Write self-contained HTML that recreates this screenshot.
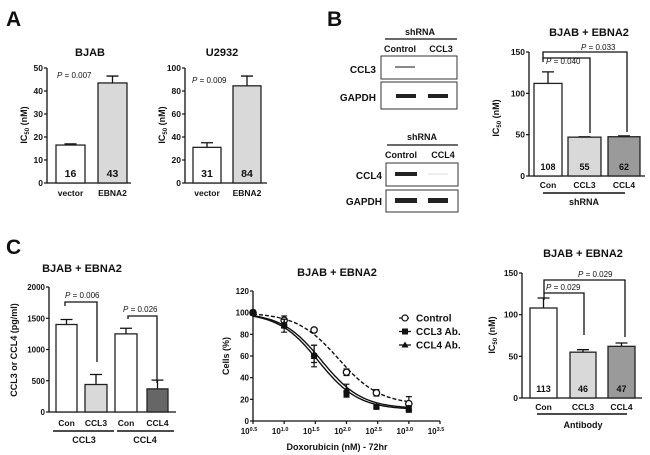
<!DOCTYPE html>
<html><head><meta charset="utf-8"><style>
html,body{margin:0;padding:0;background:#fff;}
svg{display:block;font-family:"Liberation Sans",Arial,sans-serif;}
text{fill:#111;}
.b{font-weight:bold;}
</style></head><body>
<svg id="fig" width="650" height="455" viewBox="0 0 650 455" xmlns="http://www.w3.org/2000/svg">
<text x="6" y="26" font-size="21" class="b">A</text>
<text x="327" y="26" font-size="21" class="b">B</text>
<text x="6" y="254" font-size="21" class="b">C</text>

<g>
<text x="420" y="35" font-size="9" class="b" text-anchor="middle">shRNA</text>
<line x1="385" y1="39" x2="457" y2="39" stroke="#111" stroke-width="1.2"/>
<text x="400" y="52" font-size="9" class="b" text-anchor="middle">Control</text>
<text x="441" y="52" font-size="9" class="b" text-anchor="middle">CCL3</text>
<rect x="381" y="56" width="76" height="23" fill="#fff" stroke="#333" stroke-width="1"/>
<rect x="381" y="82" width="76" height="27" fill="#fff" stroke="#333" stroke-width="1"/>
<rect x="395" y="66" width="20" height="2" fill="#888"/>
<rect x="396" y="94" width="20" height="4" fill="#222"/>
<rect x="428" y="94" width="20" height="4" fill="#222"/>
<text x="376" y="73" font-size="10" class="b" text-anchor="end">CCL3</text>
<text x="376" y="101" font-size="10" class="b" text-anchor="end">GAPDH</text>
</g>
<g>
<text x="422" y="140" font-size="9" class="b" text-anchor="middle">shRNA</text>
<line x1="387" y1="145" x2="458" y2="145" stroke="#111" stroke-width="1.2"/>
<text x="401" y="158" font-size="9" class="b" text-anchor="middle">Control</text>
<text x="443" y="158" font-size="9" class="b" text-anchor="middle">CCL4</text>
<rect x="386" y="163" width="72" height="23" fill="#fff" stroke="#333" stroke-width="1"/>
<rect x="386" y="190" width="72" height="22" fill="#fff" stroke="#333" stroke-width="1"/>
<rect x="395" y="172" width="22" height="4" fill="#222"/>
<rect x="428" y="173" width="20" height="2" fill="#eee"/>
<rect x="395" y="198" width="22" height="5" fill="#222"/>
<rect x="428" y="198" width="20" height="5" fill="#222"/>
<text x="382" y="179" font-size="10" class="b" text-anchor="end">CCL4</text>
<text x="382" y="205" font-size="10" class="b" text-anchor="end">GAPDH</text>
</g>
</svg>
<script>
// ---- data ----
const aBjabCats=["vector","EBNA2"], aBjabVals=[16.5,43.5], aBjabErr=[17,46.5], aBjabLabels=["16","43"], aBjabTicks=[0,10,20,30,40,50];
const aU2932Cats=["vector","EBNA2"], aU2932Vals=[31,84.5], aU2932Err=[35,93], aU2932Labels=["31","84"], aU2932Ticks=[0,20,40,60,80,100];
const bCats=["Con","CCL3","CCL4"], bVals=[112,47,47.5], bErr=[126,47.5,48.5], bLabels=["108","55","62"], bTicks=[0,50,100,150];
const cLCats=["Con","CCL3","Con","CCL4"], cLVals=[1400,440,1250,370], cLErr=[1480,600,1340,510], cLTicks=[0,500,1000,1500,2000];
const cRCats=["Con","CCL3","CCL4"], cRVals=[108,55,62], cRErr=[120,58,66], cRLabels=["113","46","47"], cRTicks=[0,50,100,150];
const doseLog=[0.5,1.0,1.48,2.0,2.48,3.0];
const ctrlVals=[100,93,84,45,26,16], ctrlErr=[0,4,1.5,3,3,6.5];
const ccl3Vals=[100,88,60,25,13,11], ccl3Err=[0,6,10,3,1,3];
const ccl4Vals=[100,90,62,29,14,12], ccl4Err=[0,4,8,5,1,2];
const fitTop=[100,100,100], fitBottom=[15,10.5,11.5], fitLogIC=[1.87,1.55,1.6], fitHill=[1.3,1.35,1.35];
const doseTicks=["0.5","1.0","1.5","2.0","2.5","3.0","3.5"], cellTicks=[0,20,40,60,80,100,120];

const svg=document.getElementById('fig'), NS='http://www.w3.org/2000/svg';
function mk(tag,a,parent){const e=document.createElementNS(NS,tag);for(const k in a)e.setAttribute(k,a[k]);(parent||svg).appendChild(e);return e;}
function txt(s,x,y,size,anchor,parent,extra){const t=mk('text',Object.assign({x:x,y:y,'font-size':size,'text-anchor':anchor||'middle','font-weight':'bold'},extra||{}),parent);t.textContent=s;return t;}

function barChart(o){
  const g=mk('g',{});
  
  
  const ys=v=>o.y0-(v-0)*o.ppu;
  const top=o.ticks[o.ticks.length-1];
  const ax=mk('line',{x1:o.ax,y1:ys(top),x2:o.ax,y2:o.y0,stroke:'#111','stroke-width':1.3},g);
  
  
  const xa=mk('line',{x1:o.ax,y1:o.y0,x2:o.xend,y2:o.y0,stroke:'#111','stroke-width':1.3},g);
  
  
  o.ticks.forEach(t=>{mk('line',{x1:o.ax-3,y1:ys(t),x2:o.ax,y2:ys(t),stroke:'#111','stroke-width':1.2},g);
    const tl=txt(String(t),o.ax-4,ys(t)+3,o.tf||8.5,'end',g);
    
    });
  o.vals.forEach((v,i)=>{const [x1,x2]=o.bars[i];const cx=(x1+x2)/2;
    const eb=mk('path',{d:`M${cx},${ys(v)}V${ys(o.err[i])}M${cx-6},${ys(o.err[i])}H${cx+6}`,stroke:'#111','stroke-width':1.3,fill:'none'},g);
    
    
    const r=mk('rect',{x:x1,y:ys(v),width:x2-x1,height:o.y0-ys(v),fill:o.fills[i],stroke:'#222','stroke-width':1.3},g);
    
    
    if(o.labels){const l=txt(o.labels[i],cx,o.y0-6,o.lf||10.5,'middle',g);
      
      }
    const xl=txt(o.cats[i],cx,o.xly,o.xf||8.5,'middle',g);
    
    });
  const ti=txt(o.title,o.tx,o.ty,11,'middle',g);
  
  
  const yt=mk('text',{x:0,y:0,'font-size':o.ytf||9,'font-weight':'bold','text-anchor':'middle',transform:`translate(${o.ytx},${o.yty}) rotate(-90)`},g);
  
  
  if(o.ytitle==='IC50'){yt.appendChild(document.createTextNode('IC'));const s=document.createElementNS(NS,'tspan');s.setAttribute('font-size','6');s.setAttribute('dy','2');s.textContent='50';yt.appendChild(s);const s2=document.createElementNS(NS,'tspan');s2.setAttribute('dy','-2');s2.textContent=' (nM)';yt.appendChild(s2);}
  else yt.textContent=o.ytitle;
  return {g,ys};
}
function pText(x,y,val,g,size){const t=mk('text',{x:x,y:y,'font-size':size||8.5,'text-anchor':'start'},g);
  const i=document.createElementNS(NS,'tspan');i.setAttribute('font-style','italic');i.textContent='P';t.appendChild(i);
  t.appendChild(document.createTextNode(val));
  
  return t;}
function bracket(x1,x2,y,yl,yr,g){const p=mk('path',{d:`M${x1},${yl}V${y}H${x2}V${yr}`,stroke:'#111','stroke-width':1.3,fill:'none'},g);
  
  }
function uline(x1,x2,y,label,lx,ly,g){mk('line',{x1:x1,y1:y,x2:x2,y2:y,stroke:'#111','stroke-width':1.5},g);
  const t=txt(label,lx,ly,9,'middle',g);
  
  }

// A BJAB
let c=barChart({name:'chart-a-bjab',ax:47,xend:131,y0:183,ppu:115/50,ticks:aBjabTicks,vals:aBjabVals,err:aBjabErr,labels:aBjabLabels,cats:aBjabCats,
  bars:[[56,85],[98,127]],fills:['#fff','#d9d9d9'],xly:196,title:'BJAB',tx:90,ty:56,ytitle:'IC50',ytx:27,yty:125});
pText(57,78,' = 0.007',c.g,8);
// A U2932
c=barChart({name:'chart-a-u2932',ax:185,xend:267,y0:183,ppu:115/100,ticks:aU2932Ticks,vals:aU2932Vals,err:aU2932Err,labels:aU2932Labels,cats:aU2932Cats,
  bars:[[193,221],[233,261]],fills:['#fff','#d9d9d9'],xly:196,title:'U2932',tx:222,ty:56,ytitle:'IC50',ytx:165,yty:125});
pText(192,83,' = 0.009',c.g,8);
// B
c=barChart({name:'chart-b-shrna',ax:529,xend:645,y0:176,ppu:124/150,ticks:bTicks,vals:bVals,err:bErr,labels:bLabels,cats:bCats,lf:9,
  bars:[[534,562],[568,601],[608,640]],fills:['#fff','#d9d9d9','#9a9a9a'],xly:188,xf:8.5,title:'BJAB + EBNA2',tx:589,ty:36,ytitle:'IC50',ytx:499,yty:118});
bracket(543,590,58,62,133,c.g);bracket(543,627,52,58,132,c.g);
pText(546,64,' = 0.040',c.g,8);pText(581,50,' = 0.033',c.g,8);
uline(543,625,193,'shRNA',584,205,c.g);
// C left
c=barChart({name:'chart-c-elisa',ax:49,xend:176,y0:412,ppu:125/2000,ticks:cLTicks,vals:cLVals,err:cLErr,cats:cLCats,
  bars:[[56,77],[85,107],[115,137],[147,168]],fills:['#fff','#d9d9d9','#fff','#666'],xly:426,title:'BJAB + EBNA2',tx:82,ty:272,ytitle:'CCL3 or CCL4 (pg/ml)',ytx:17,yty:350,tf:8});
bracket(65,97,302,306,362,c.g);bracket(128,157,316,319,383,c.g);
pText(65,298,' = 0.006',c.g,8);pText(123,312,' = 0.026',c.g,8);
uline(53,114,431,'CCL3',84,443,c.g);uline(117,174,431,'CCL4',145,443,c.g);
// C right
c=barChart({name:'chart-c-antibody',ax:522,xend:642,y0:398,ppu:125/150,ticks:cRTicks,vals:cRVals,err:cRErr,labels:cRLabels,cats:cRCats,lf:9,
  bars:[[530,557],[570,596],[608,635]],fills:['#fff','#d9d9d9','#9a9a9a'],xly:410,title:'BJAB + EBNA2',tx:583,ty:257,ytitle:'IC50',ytx:495,yty:335});
bracket(544,584,293,300,335,c.g);bracket(544,625,280,293,337,c.g);
pText(546,290,' = 0.029',c.g,8);pText(578,277,' = 0.029',c.g,8);
uline(537,627,414,'Antibody',583,428,c.g);

// C middle dose-response
(function(){
  const g=mk('g',{});
  
  
  const xs=l=>253+(l-0.5)*(187/3), ys=v=>421-v*(130/120);
  const ya=mk('line',{x1:253,y1:ys(120),x2:253,y2:421,stroke:'#111','stroke-width':1.3},g);
  
  
  const xa=mk('line',{x1:253,y1:421,x2:xs(3.5),y2:421,stroke:'#111','stroke-width':1.3},g);
  
  
  cellTicks.forEach(t=>{mk('line',{x1:250,y1:ys(t),x2:253,y2:ys(t),stroke:'#111','stroke-width':1.2},g);
    const l=txt(String(t),249,ys(t)+3,8,'end',g);
    
    });
  doseTicks.forEach(t=>{const x=xs(parseFloat(t));mk('line',{x1:x,y1:421,x2:x,y2:424,stroke:'#111','stroke-width':1.2},g);
    const l=mk('text',{x:x-4,y:434,'font-size':8,'font-weight':'bold','text-anchor':'middle'},g);
    
    
    l.appendChild(document.createTextNode('10'));const s=document.createElementNS(NS,'tspan');s.setAttribute('font-size','5.5');s.setAttribute('dy','-3');s.textContent=t;l.appendChild(s);});
  let t=txt('BJAB + EBNA2',337,276,11,'middle',g);
  
  
  t=txt('Doxorubicin (nM) - 72hr',337,450,9,'middle',g);
  
  
  t=mk('text',{x:0,y:0,'font-size':9,'font-weight':'bold','text-anchor':'middle',transform:'translate(229,356) rotate(-90)'},g);t.textContent='Cells (%)';
  
  
  const series=[[ctrlVals,ctrlErr,'4,2','circle'],[ccl3Vals,ccl3Err,'','square'],[ccl4Vals,ccl4Err,'','triangle']];
  series.forEach((s,k)=>{
    let d='';for(let i=0;i<=80;i++){const l=0.5+2.5*i/80;const y=fitBottom[k]+(fitTop[k]-fitBottom[k])/(1+Math.pow(10,(l-fitLogIC[k])*fitHill[k]));d+=(i?'L':'M')+xs(l).toFixed(1)+','+ys(y).toFixed(1);}
    const p=mk('path',{d:d,fill:'none',stroke:'#111','stroke-width':1.4,'stroke-dasharray':s[2]},g);
    
    
    s[0].forEach((v,i)=>{const x=xs(doseLog[i]),y=ys(v),e=s[1][i]*130/120;
      if(e>0){const eb=mk('path',{d:`M${x},${y-e}V${y+e}M${x-3},${y-e}H${x+3}M${x-3},${y+e}H${x+3}`,stroke:'#111','stroke-width':1.2},g);
        
        }
      let m;
      if(s[3]==='circle')m=mk('circle',{cx:x,cy:y,r:3.2,fill:'#fff',stroke:'#111','stroke-width':1.3},g);
      else if(s[3]==='square')m=mk('rect',{x:x-3,y:y-3,width:6,height:6,fill:'#111'},g);
      else m=mk('path',{d:`M${x},${y-3.5}L${x+3.5},${y+2.5}L${x-3.5},${y+2.5}Z`,fill:'#111'},g);
      
      });
  });
  const lg=[['Control','4,2','circle'],['CCL3 Ab.','','square'],['CCL4 Ab.','','triangle']];
  lg.forEach((e,i)=>{const y=318+i*13.5;const x=405;
    const le=mk('g',{},g);
    
    
    mk('line',{x1:x-6,y1:y,x2:x+6,y2:y,stroke:'#111','stroke-width':1.3,'stroke-dasharray':e[1]},le);
    if(e[2]==='circle')mk('circle',{cx:x,cy:y,r:3,fill:'#fff',stroke:'#111','stroke-width':1.2},le);
    else if(e[2]==='square')mk('rect',{x:x-3,y:y-3,width:6,height:6,fill:'#111'},le);
    else mk('path',{d:`M${x},${y-3.5}L${x+3.5},${y+2.5}L${x-3.5},${y+2.5}Z`,fill:'#111'},le);
    txt(e[0],416,y+3.5,10,'start',le);});
})();
</script>
</body></html>
